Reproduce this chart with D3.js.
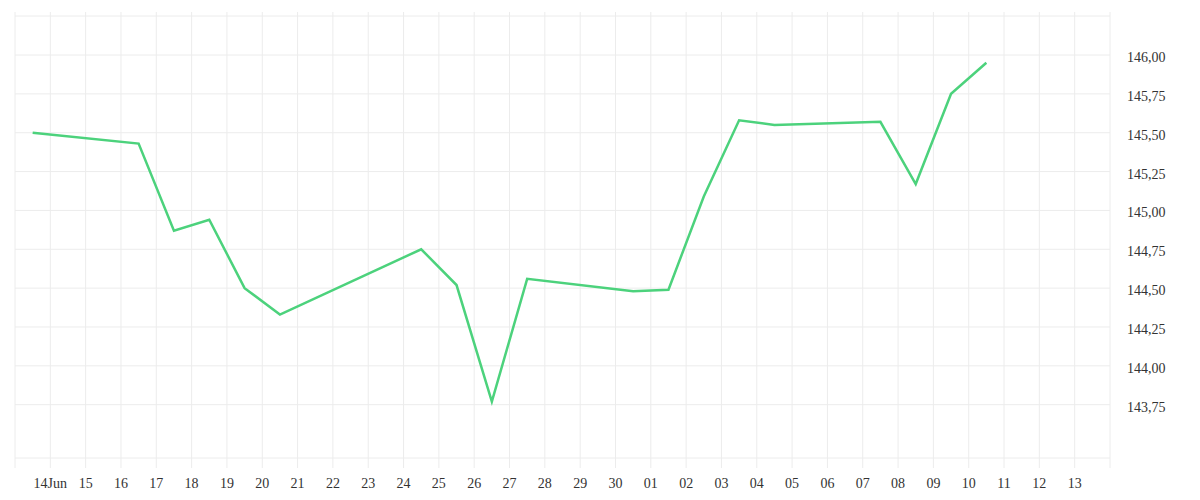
<!DOCTYPE html>
<html>
<head>
<meta charset="utf-8">
<script src="https://cdn.jsdelivr.net/npm/d3@7"></script>
<style>
  body { margin: 0; background: #fff; }
  svg text { font-family: "Liberation Serif", serif; font-size: 14px; fill: #333; }
</style>
</head>
<body>
<div class="canvas"></div>
<script>
// data (daily points, plotted at noon)
const dates = ['2024-06-13', '2024-06-16', '2024-06-17', '2024-06-18', '2024-06-19', '2024-06-20',
  '2024-06-24', '2024-06-25', '2024-06-26', '2024-06-27', '2024-06-30', '2024-07-01',
  '2024-07-02', '2024-07-03', '2024-07-04', '2024-07-07', '2024-07-08', '2024-07-09', '2024-07-10'];
const rates = [145.50, 145.43, 144.87, 144.94, 144.50, 144.33,
  144.75, 144.52, 143.77, 144.56, 144.48, 144.49,
  145.09, 145.58, 145.55, 145.57, 145.17, 145.75, 145.95];
const yTicks = [143.75, 144.00, 144.25, 144.50, 144.75, 145.00, 145.25, 145.50, 145.75, 146.00];
const xRange = ['2024-06-13', '2024-07-14'];
const yRange = [143.407, 146.251];

const width = 1200, height = 500;
const margin = {top: 16, right: 90, bottom: 42, left: 15};
const graphWidth = width - margin.left - margin.right;
const graphHeight = height - margin.top - margin.bottom;

const parse = d3.utcParse('%Y-%m-%d');
const data = dates.map((d, i) => ({date: d3.utcHour.offset(parse(d), 12), value: rates[i]}));

const svg = d3.select('.canvas')
  .append('svg')
    .attr('width', width)
    .attr('height', height);

const graph = svg.append('g')
  .attr('transform', `translate(${margin.left}, ${margin.top})`);

const x = d3.scaleUtc()
  .domain(xRange.map(parse))
  .range([0, graphWidth]);
const y = d3.scaleLinear()
  .domain(yRange)
  .range([graphHeight, 0]);

const locale = d3.formatLocale({decimal: ',', thousands: '.', grouping: [3], currency: ['', '']});
const fmt = locale.format('.2f');

// vertical grid (one line per day)
const days = d3.utcDay.range(x.domain()[0], d3.utcDay.offset(x.domain()[1], 1));
graph.append('g')
  .selectAll('line')
  .data(days)
  .enter().append('line')
    .attr('x1', d => x(d)).attr('x2', d => x(d))
    .attr('y1', -4).attr('y2', graphHeight + 10)
    .attr('stroke', '#ececec')
    .attr('stroke-width', 1);

// horizontal grid (ticks plus frame)
graph.append('g')
  .selectAll('line')
  .data(yTicks.concat(yRange))
  .enter().append('line')
    .attr('x1', 0).attr('x2', graphWidth)
    .attr('y1', d => y(d)).attr('y2', d => y(d))
    .attr('stroke', '#ececec')
    .attr('stroke-width', 1);

// x labels
const labelDays = days.slice(1, -1);
graph.append('g')
  .selectAll('text')
  .data(labelDays)
  .enter().append('text')
    .attr('x', d => x(d))
    .attr('y', graphHeight + 30)
    .attr('text-anchor', 'middle')
    .text((d, i) => i === 0 ? d3.utcFormat('%d%b')(d) : d3.utcFormat('%d')(d));

// y labels on the right
graph.append('g')
  .selectAll('text')
  .data(yTicks)
  .enter().append('text')
    .attr('x', graphWidth + 17)
    .attr('y', d => y(d))
    .attr('dy', '0.5em')
    .text(d => fmt(d));

// the line
const line = d3.line()
  .x(d => x(d.date))
  .y(d => y(d.value));

graph.append('path')
  .datum(data)
  .attr('fill', 'none')
  .attr('stroke', '#4cd27c')
  .attr('stroke-width', 2.5)
  .attr('stroke-linejoin', 'miter')
  .attr('d', line);
</script>
</body>
</html>
